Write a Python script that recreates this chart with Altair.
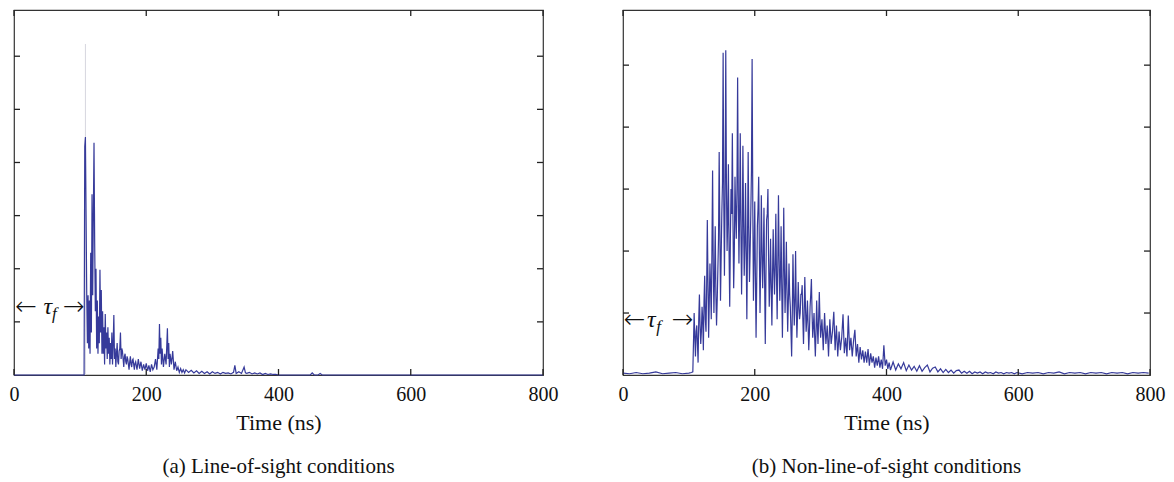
import altair as alt
import pandas as pd

# ---------------- data ----------------
# (time in ns, amplitude in arbitrary units: LOS axis 0..7, NLOS axis 0..6)
los_samples = [
    (0, 0), (50, 0), (100, 0), (106, 0),
    (107, 4.3), (108, 4.48), (109, 3.0), (110, 1.5), (111, 0.6), (112, 1.5), (113, 0.5),
    (114, 1.4), (115, 0.4), (116, 2.3), (117, 0.8), (118, 3.4), (119, 1.5), (120, 3.0),
    (121, 4.37), (122, 2.5), (123, 1.2), (124, 2.0), (125, 0.5), (126, 1.4), (127, 0.4),
    (128, 1.1), (129, 0.6), (130, 1.98), (131, 0.8), (132, 1.6), (133, 0.4), (134, 1.2),
    (135, 0.4), (136, 0.9), (137, 0.2), (138, 1.15), (139, 0.5), (140, 0.8), (141, 0.3),
    (142, 0.9), (143, 0.4), (144, 0.7), (145, 0.2), (146, 0.6), (147, 0.3), (148, 0.8),
    (149, 0.2), (150, 0.6), (151, 1.13), (152, 0.3), (153, 0.5), (154, 0.15), (155, 0.4),
    (156, 0.6), (157, 0.25), (158, 0.2), (159, 0.45), (160, 0.5), (161, 0.8), (162, 0.3),
    (163, 0.5), (164, 0.45), (165, 0.3), (166, 0.15), (167, 0.35), (168, 0.4), (169, 0.25),
    (170, 0.2), (171, 0.35), (172, 0.3), (173, 0.2), (174, 0.1), (175, 0.25), (176, 0.35),
    (177, 0.2), (178, 0.15), (179, 0.28), (180, 0.3), (181, 0.2), (182, 0.1), (183, 0.22),
    (184, 0.25), (186, 0.1), (188, 0.3), (190, 0.12), (192, 0.25), (194, 0.08), (196, 0.2),
    (198, 0.1), (200, 0.22), (202, 0.08), (204, 0.18), (206, 0.06), (208, 0.2), (210, 0.1),
    (212, 0.15), (214, 0.3), (216, 0.1), (218, 0.5), (219, 0.3), (220, 0.96), (221, 0.4),
    (222, 0.7), (223, 0.2), (224, 0.5), (226, 0.15), (228, 0.4), (230, 0.2), (232, 0.88),
    (233, 0.3), (234, 0.6), (235, 0.15), (236, 0.4), (238, 0.2), (240, 0.45), (242, 0.1),
    (244, 0.25), (246, 0.08), (248, 0.15), (250, 0.05), (252, 0.12), (254, 0.05), (256, 0.1),
    (258, 0.04), (260, 0.1), (264, 0.05), (268, 0.09), (272, 0.04), (276, 0.08), (280, 0.03),
    (284, 0.07), (288, 0.03), (292, 0.06), (296, 0.02), (300, 0.06), (304, 0.03), (308, 0.05),
    (312, 0.02), (316, 0.05), (320, 0.03), (324, 0.04), (328, 0.02), (332, 0.05), (334, 0.18),
    (336, 0.03), (340, 0.06), (344, 0.03), (348, 0.15), (350, 0.04), (352, 0.03), (356, 0.05),
    (360, 0.02), (364, 0.04), (368, 0.02), (372, 0.04), (376, 0.01), (380, 0.03), (384, 0.01),
    (388, 0.02), (392, 0.01), (396, 0.01), (400, 0), (448, 0), (451, 0.04), (454, 0),
    (460, 0), (463, 0.03), (466, 0), (800, 0),
]
los_faint_peak = [(108, 6.23)]

nlos_samples = [
    (0, 0.03), (10, 0.02), (20, 0.04), (30, 0.02), (40, 0.03), (50, 0.05), (60, 0.02),
    (70, 0.03), (80, 0.04), (90, 0.02), (100, 0.03), (104, 0.04), (106, 0.05),
    (108, 1.0), (110, 0.3), (112, 0.8), (114, 0.2), (116, 1.3), (118, 0.5), (120, 1.1),
    (122, 0.4), (124, 1.6), (126, 0.7), (128, 2.5), (130, 0.6), (132, 1.8), (134, 0.9),
    (136, 3.3), (138, 1.0), (140, 2.4), (142, 0.8), (144, 1.7), (146, 3.6), (148, 1.2),
    (150, 2.6), (152, 5.2), (154, 1.6), (156, 5.24), (158, 2.0), (160, 3.4), (162, 1.1),
    (164, 3.0), (166, 3.9), (168, 1.4), (170, 3.2), (172, 2.2), (174, 4.8), (176, 1.8),
    (178, 3.9), (180, 1.3), (182, 3.7), (184, 1.6), (186, 3.1), (188, 0.9), (190, 3.6),
    (192, 1.5), (194, 2.6), (196, 5.1), (198, 1.2), (200, 2.8), (202, 0.6), (204, 2.4),
    (206, 3.2), (208, 1.0), (210, 2.9), (212, 1.4), (214, 2.7), (216, 0.5), (218, 2.5),
    (220, 3.0), (222, 1.1), (224, 2.2), (226, 0.8), (228, 2.35), (230, 1.3), (232, 2.6),
    (234, 0.9), (236, 2.9), (238, 1.2), (240, 2.4), (242, 0.6), (244, 2.7), (246, 1.0),
    (248, 2.15), (250, 0.7), (252, 1.8), (254, 1.1), (256, 0.3), (258, 1.95), (260, 0.8),
    (262, 2.0), (264, 0.6), (266, 1.5), (268, 0.9), (270, 1.3), (272, 1.45), (274, 0.5),
    (276, 1.58), (278, 0.7), (280, 1.2), (282, 0.4), (284, 1.1), (286, 1.55), (288, 0.6),
    (290, 1.0), (292, 0.3), (294, 1.2), (296, 0.5), (298, 1.34), (300, 0.6), (302, 0.9),
    (304, 0.4), (306, 1.0), (308, 0.5), (310, 0.8), (312, 0.3), (314, 0.9), (316, 0.5),
    (318, 0.7), (320, 1.02), (322, 0.4), (324, 0.8), (326, 0.3), (328, 0.7), (330, 0.4),
    (332, 0.6), (334, 0.98), (336, 0.35), (338, 0.6), (340, 0.3), (342, 0.96), (344, 0.4),
    (346, 0.6), (348, 0.3), (350, 0.55), (352, 0.73), (354, 0.3), (356, 0.5), (358, 0.2),
    (360, 0.45), (362, 0.25), (364, 0.4), (366, 0.2), (368, 0.38), (370, 0.2), (372, 0.42),
    (374, 0.15), (376, 0.35), (378, 0.2), (380, 0.3), (382, 0.12), (384, 0.28), (386, 0.15),
    (388, 0.3), (390, 0.12), (392, 0.25), (394, 0.1), (396, 0.48), (398, 0.15), (400, 0.25),
    (402, 0.1), (404, 0.2), (406, 0.08), (410, 0.21), (414, 0.08), (418, 0.18), (422, 0.1),
    (426, 0.2), (430, 0.07), (434, 0.16), (438, 0.08), (442, 0.14), (446, 0.06), (450, 0.15),
    (454, 0.06), (458, 0.12), (462, 0.16), (466, 0.05), (470, 0.11), (474, 0.13), (478, 0.05),
    (482, 0.1), (486, 0.04), (490, 0.09), (494, 0.04), (498, 0.08), (502, 0.03), (506, 0.07),
    (510, 0.08), (514, 0.03), (518, 0.06), (522, 0.03), (526, 0.06), (530, 0.02), (534, 0.05),
    (538, 0.03), (542, 0.05), (546, 0.02), (550, 0.05), (554, 0.03), (558, 0.04), (562, 0.02),
    (566, 0.05), (570, 0.03), (574, 0.04), (578, 0.02), (582, 0.04), (586, 0.03), (590, 0.04),
    (594, 0.02), (598, 0.04), (606, 0.02), (614, 0.04), (622, 0.03), (630, 0.04), (638, 0.02),
    (646, 0.04), (654, 0.03), (662, 0.05), (670, 0.02), (678, 0.04), (686, 0.03), (694, 0.04),
    (702, 0.02), (710, 0.04), (718, 0.03), (726, 0.04), (734, 0.02), (742, 0.04), (750, 0.03),
    (758, 0.04), (766, 0.02), (774, 0.04), (782, 0.03), (790, 0.04), (798, 0.03),
]
# in-between samples of the dense NLOS core (odd nanoseconds)
nlos_core_samples = [
    (109, 0.6), (111, 0.7), (113, 0.5), (115, 0.9), (117, 0.8), (119, 0.7), (121, 0.9),
    (123, 1.2), (125, 0.9), (127, 1.4), (129, 1.5), (131, 1.2), (133, 1.4), (135, 2.0),
    (137, 1.8), (139, 1.6), (141, 1.3), (143, 1.2), (145, 2.2), (147, 2.4), (149, 1.9),
    (151, 3.1), (153, 2.8), (155, 2.9), (157, 3.1), (159, 2.5), (161, 2.0), (163, 2.2),
    (165, 2.6), (167, 2.4), (169, 2.0), (171, 2.6), (173, 3.0), (175, 2.9), (177, 2.6),
    (179, 2.4), (181, 2.2), (183, 2.5), (185, 2.1), (187, 2.0), (189, 2.1), (191, 2.4),
    (193, 2.0), (195, 3.3), (197, 2.8), (199, 1.9), (201, 1.6), (203, 1.5), (205, 2.7),
    (207, 2.0), (209, 1.8), (211, 2.0), (213, 1.9), (215, 1.5), (217, 1.6), (219, 2.6),
    (221, 1.9), (223, 1.5), (225, 1.4), (227, 1.6), (229, 1.7), (231, 1.8), (233, 1.6),
    (235, 1.8), (237, 1.9), (239, 1.6), (241, 1.4), (243, 1.5), (245, 1.7), (247, 1.5),
    (249, 1.3), (251, 1.2), (253, 1.3), (255, 0.7), (257, 1.0), (259, 1.3), (261, 1.2),
    (263, 1.1), (265, 1.0), (267, 1.1), (269, 1.0), (271, 1.3), (273, 0.9), (275, 1.0),
    (277, 1.1), (279, 0.9), (281, 0.8), (283, 0.7), (285, 1.3), (287, 1.0), (289, 0.8),
    (291, 0.6), (293, 0.7), (295, 0.8), (297, 0.9), (299, 0.9),
]

x_tick_values = [0, 200, 400, 600, 800]
los_y_ticks = [1, 2, 3, 4, 5, 6]
nlos_y_ticks = [1, 2, 3, 4, 5]
# top of each panel's amplitude axis (frame edge in axis units)
los_y_max = 6.87
nlos_y_max = 5.89

# tau_f annotation anchors (time, amplitude) for each panel
los_tau = {"left": 2, "mid": 51, "sub": 61, "right": 107, "v": 1.28}
nlos_tau = {"left": 1, "mid": 43, "sub": 54, "right": 107, "v": 0.89}

captions = ["(a) Line-of-sight conditions", "(b) Non-line-of-sight conditions"]

# ---------------- styling ----------------
LINE = "#363a9a"
FONT = "Liberation Serif, Times New Roman, serif"
H = 365
TICK = 6


def panel(samples, ymax, yticks, width, caption, tau, faint=None):
    df = pd.DataFrame(sorted(samples), columns=["t", "v"])
    xs = alt.Scale(domain=[0, 800], nice=False, zero=False)
    ys = alt.Scale(domain=[0, ymax], nice=False, zero=False)
    xaxis = alt.Axis(values=x_tick_values, ticks=False, domain=False, grid=False,
                     labelFont=FONT, labelFontSize=20, labelColor="#111",
                     labelPadding=9, labelFlush=False, title="Time (ns)",
                     titleFont=FONT, titleFontSize=22, titleFontWeight="normal",
                     titleColor="#111", titlePadding=8)
    X = alt.X("t:Q", scale=xs, axis=xaxis)
    Y = alt.Y("v:Q", scale=ys, axis=None)

    layers = []
    if faint:
        fdf = pd.DataFrame(faint, columns=["t", "v"])
        layers.append(alt.Chart(fdf).mark_rule(color="#d6d6de", strokeWidth=1).encode(
            x=X, y=Y, y2=alt.value(H)))
    layers.append(alt.Chart(df).mark_line(color=LINE, strokeWidth=1.2,
                                          interpolate="linear").encode(
        x=X, y=Y, order="t:Q"))

    xt = pd.DataFrame({"t": x_tick_values})
    yt = pd.DataFrame({"v": yticks})
    tick_style = dict(color="#222", strokeWidth=1.3)
    layers.append(alt.Chart(xt).mark_rule(**tick_style).encode(
        x=X, y=alt.value(H), y2=alt.value(H - TICK)))
    layers.append(alt.Chart(xt).mark_rule(**tick_style).encode(
        x=X, y=alt.value(0), y2=alt.value(TICK)))
    layers.append(alt.Chart(yt).mark_rule(**tick_style).encode(
        y=Y, x=alt.value(0), x2=alt.value(TICK)))
    layers.append(alt.Chart(yt).mark_rule(**tick_style).encode(
        y=Y, x=alt.value(width), x2=alt.value(width - TICK)))

    arrows = pd.DataFrame({"t": [tau["left"], tau["right"]], "v": [tau["v"], tau["v"]],
                           "s": ["\u2190", "\u2192"]})
    layers.append(alt.Chart(arrows.iloc[[0]]).mark_text(
        font="DejaVu Sans", fontSize=26, fontWeight=300, align="left", baseline="middle",
        color="#111").encode(x=X, y=Y, text="s:N"))
    layers.append(alt.Chart(arrows.iloc[[1]]).mark_text(
        font="DejaVu Sans", fontSize=26, fontWeight=300, align="right", baseline="middle",
        color="#111").encode(x=X, y=Y, text="s:N"))
    tdf = pd.DataFrame({"t": [tau["mid"]], "v": [tau["v"]], "s": ["\u03c4"]})
    layers.append(alt.Chart(tdf).mark_text(
        font=FONT, fontSize=24, fontStyle="italic", align="center", baseline="middle",
        color="#111").encode(x=X, y=Y, text="s:N"))
    sdf = pd.DataFrame({"t": [tau["sub"]], "v": [tau["v"]], "s": ["f"]})
    layers.append(alt.Chart(sdf).mark_text(
        font=FONT, fontSize=17, fontStyle="italic", align="center", baseline="middle",
        dy=7, color="#111").encode(x=X, y=Y, text="s:N"))

    return alt.layer(*layers).properties(
        width=width, height=H,
        title=alt.Title(caption, orient="bottom", font=FONT, fontSize=21,
                        fontWeight="normal", color="#111", offset=23))


left = panel(los_samples, los_y_max, los_y_ticks, 529, captions[0], los_tau,
             faint=los_faint_peak)
right = panel(nlos_samples + nlos_core_samples, nlos_y_max, nlos_y_ticks, 527,
              captions[1], nlos_tau)

chart = alt.hconcat(left, right, spacing=80, bounds="flush").properties(
    padding={"left": 0, "top": 0, "right": 0, "bottom": 0},
    background="white",
).configure_view(stroke="#333", strokeWidth=1.2)

chart.save("out.html", embed_options={"renderer": "svg", "actions": False})
